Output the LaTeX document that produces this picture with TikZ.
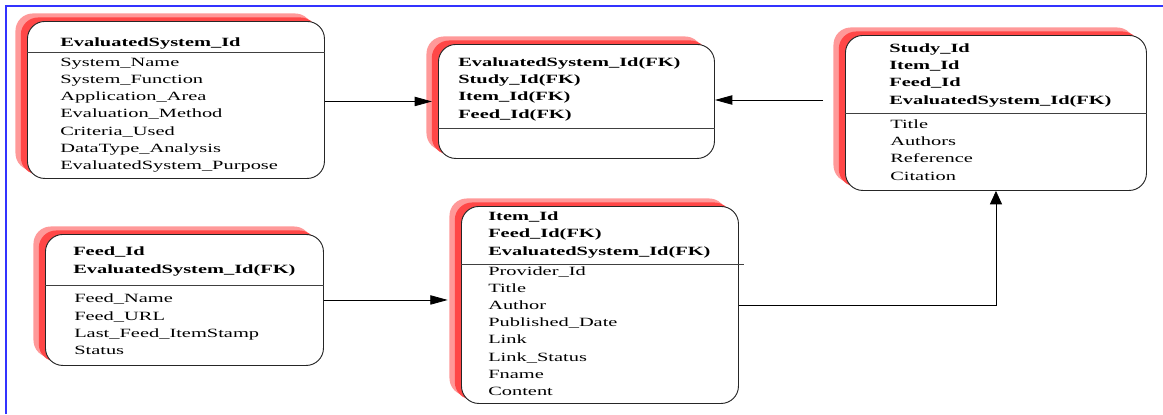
\documentclass[tikz,border=0pt]{standalone}
\usepackage{fontspec}
\setmainfont{Liberation Serif}[FakeStretch=1.62]
\usepackage{tikz}
\usetikzlibrary{arrows.meta}
\usetikzlibrary{shadows}
\tikzset{table/.style={draw=black!85, line width=0.7pt, rounded corners=13pt, fill=white, inner sep=0, anchor=north west,
  general shadow={draw=none, fill=red!40, shadow xshift=-9pt, shadow yshift=6pt},
  general shadow={draw=none, fill=red!72, shadow xshift=-5pt, shadow yshift=3pt}}}
\tikzset{keys/.style={font=\fontsize{9.45}{12.8}\selectfont\bfseries, align=left, anchor=base west, inner sep=0}}
\tikzset{attrs/.style={font=\fontsize{9.45}{12.9}\selectfont, align=left, anchor=base west, inner sep=0}}
\tikzset{rule/.style={draw=black!75, line width=0.6pt}}
\tikzset{hlink/.style={draw, line width=0.6pt, -{Triangle[length=13pt, width=7pt]}}}
\tikzset{vlink/.style={draw, line width=0.6pt, -{Triangle[length=10pt, width=9pt]}}}

\begin{document}
\begin{tikzpicture}[x=0.75pt, y=-0.75pt]
  \useasboundingbox (0,0) rectangle (1163,414);
  \draw[blue!80, line width=1.5pt] (6,414) -- (6,6) -- (1163,6);

  % the five tables
  \node[table, minimum width=222.75pt, minimum height=117.75pt] at (27,21) (esys) {};
  \node[table, minimum width=207pt, minimum height=85.5pt] at (438,44) (assoc) {};
  \node[table, minimum width=225.75pt, minimum height=116.25pt] at (845,35) (study) {};
  \node[table, minimum width=208.5pt, minimum height=98.25pt] at (45,234) (feed) {};
  \node[table, minimum width=207.75pt, minimum height=147.75pt] at (461,206) (item) {};

  \draw[rule] (esys.west |- 0,52) -- (esys.east |- 0,52);
  \draw[rule] (assoc.west |- 0,128) -- (assoc.east |- 0,128);
  \draw[rule] (study.west |- 0,113) -- (study.east |- 0,113);
  \draw[rule] (feed.west |- 0,285) -- (feed.east |- 0,285);
  \draw[rule] (item.west |- 0,264) -- ([xshift=4pt]item.east |- 0,264);

  % base of a block is its last line
  \node[keys] at (60,46.5) (esyskeys) {EvaluatedSystem\_Id};
  \node[attrs] at (60,169.5) (esysattrs) {System\_Name\\System\_Function\\Application\_Area\\Evaluation\_Method\\Criteria\_Used\\DataType\_Analysis\\EvaluatedSystem\_Purpose};

  \node[keys] at (458,118) (assockeys) {EvaluatedSystem\_Id(FK)\\Study\_Id(FK)\\Item\_Id(FK)\\Feed\_Id(FK)};

  \node[keys] at (889,104) (studykeys) {Study\_Id\\Item\_Id\\Feed\_Id\\EvaluatedSystem\_Id(FK)};
  \node[attrs] at (890,180) (studyattrs) {Title\\Authors\\Reference\\Citation};

  \node[keys] at (73,273) (feedkeys) {Feed\_Id\\EvaluatedSystem\_Id(FK)};
  \node[attrs] at (74,354.5) (feedattrs) {Feed\_Name\\Feed\_URL\\Last\_Feed\_ItemStamp\\Status};

  \node[keys] at (488,255) (itemkeys) {Item\_Id\\Feed\_Id(FK)\\EvaluatedSystem\_Id(FK)};
  \node[attrs] at (488,395.5) (itemattrs) {Provider\_Id\\Title\\Author\\Published\_Date\\Link\\Link\_Status\\Fname\\Content};

  % links
  \coordinate (studytail) at (823,100);
  \draw[hlink, shorten >=4.5pt] (esys.east |- assoc.west) -- (assoc.west);
  \draw[hlink] (studytail) -- (assoc.east |- studytail);
  \draw[hlink, shorten >=10pt] (feed.east) -- (item.west |- feed.east);
  \draw[vlink] (item.east) -| (study.south);
\end{tikzpicture}
\end{document}
